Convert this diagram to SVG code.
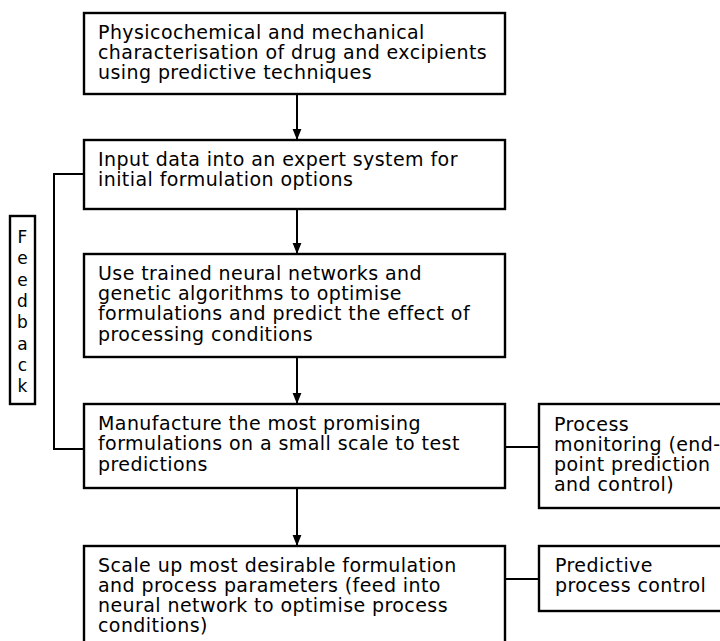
<svg xmlns="http://www.w3.org/2000/svg" width="720" height="641" viewBox="0 0 720 641">
<style>
.box{fill:#fff;stroke:#000;stroke-width:2.4}
.t{font-family:"DejaVu Sans","Open Sans",sans-serif;font-size:19px;letter-spacing:0.42px;fill:#000}
.fb{font-family:"DejaVu Sans","Open Sans",sans-serif;font-size:17px;fill:#000;text-anchor:middle}
.c{fill:none;stroke:#000;stroke-width:2}
</style>
<defs>
<marker id="ah" viewBox="0 0 10 10" refX="10" refY="5" markerWidth="11" markerHeight="11" markerUnits="userSpaceOnUse" orient="auto">
<path d="M0,1 L10,5 L0,9 Z" fill="#000"/>
</marker>
</defs>
<g id="connectors">
<line class="c" x1="297" y1="94" x2="297" y2="140" marker-end="url(#ah)"/>
<line class="c" x1="297" y1="209" x2="297" y2="254" marker-end="url(#ah)"/>
<line class="c" x1="297" y1="357" x2="297" y2="404" marker-end="url(#ah)"/>
<line class="c" x1="297" y1="488" x2="297" y2="546" marker-end="url(#ah)"/>
<polyline class="c" points="84,174 54,174 54,449 84,449"/>
<line class="c" x1="505" y1="447" x2="539" y2="447"/>
<line class="c" x1="505" y1="579" x2="539" y2="579"/>
</g>
<g id="n1">
<rect class="box" x="84" y="13" width="421" height="81"/>
<text class="t" x="98" y="39">Physicochemical and mechanical</text>
<text class="t" x="98" y="59">characterisation of drug and excipients</text>
<text class="t" x="98" y="79">using predictive techniques</text>
</g>
<g id="n2">
<rect class="box" x="84" y="140" width="421" height="69"/>
<text class="t" x="98" y="166">Input data into an expert system for</text>
<text class="t" x="98" y="186">initial formulation options</text>
</g>
<g id="n3">
<rect class="box" x="84" y="254" width="421" height="103"/>
<text class="t" x="98" y="280">Use trained neural networks and</text>
<text class="t" x="98" y="300">genetic algorithms to optimise</text>
<text class="t" x="98" y="320">formulations and predict the effect of</text>
<text class="t" x="98" y="341">processing conditions</text>
</g>
<g id="n4">
<rect class="box" x="84" y="404" width="421" height="84"/>
<text class="t" x="98" y="430">Manufacture the most promising</text>
<text class="t" x="98" y="450">formulations on a small scale to test</text>
<text class="t" x="98" y="471">predictions</text>
</g>
<g id="n5">
<rect class="box" x="84" y="546" width="421" height="120"/>
<text class="t" x="98" y="572">Scale up most desirable formulation</text>
<text class="t" x="98" y="592">and process parameters (feed into</text>
<text class="t" x="98" y="612">neural network to optimise process</text>
<text class="t" x="98" y="632">conditions)</text>
</g>
<g id="n6">
<rect class="box" x="539" y="404" width="200" height="104"/>
<text class="t" x="554" y="431">Process</text>
<text class="t" x="554" y="451">monitoring (end-</text>
<text class="t" x="554" y="471">point prediction</text>
<text class="t" x="554" y="491">and control)</text>
</g>
<g id="n7">
<rect class="box" x="539" y="546" width="200" height="65"/>
<text class="t" x="555" y="572">Predictive</text>
<text class="t" x="555" y="592">process control</text>
</g>
<g id="feedback">
<rect class="box" x="10" y="216" width="25" height="188"/>
<text class="fb" x="22.5" y="243">F</text>
<text class="fb" x="22.5" y="264">e</text>
<text class="fb" x="22.5" y="286">e</text>
<text class="fb" x="22.5" y="307">d</text>
<text class="fb" x="22.5" y="328">b</text>
<text class="fb" x="22.5" y="350">a</text>
<text class="fb" x="22.5" y="371">c</text>
<text class="fb" x="22.5" y="392">k</text>
</g>
</svg>
